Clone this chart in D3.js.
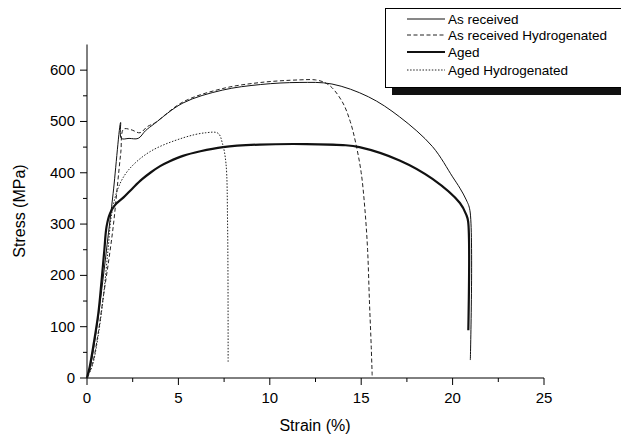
<!DOCTYPE html>
<html>
<head>
<meta charset="utf-8">
<script src="https://cdn.jsdelivr.net/npm/d3@7"></script>
<style>
  body { margin: 0; background: #fff; }
  svg { font-family: "Liberation Sans", Arial, sans-serif; }
</style>
</head>
<body>
<svg width="621" height="443"></svg>
<script>
// strain (%), stress (MPa)
const asReceived = [[0,0],[0.2,25],[0.5,90],[0.8,170],[1.1,260],[1.43,360],[1.84,498],[1.88,467],[2.3,467],[2.8,467],
  [3.2,482],[3.7,496],[5.25,536],[7.4,561],[9.5,572],[11.6,576],[13.4,573],[15.4,548],[17.1,509],[18.9,451],
  [20.0,392],[20.4,370],[20.75,347],[20.95,326],[20.97,35]]
const asReceivedH = [[0,0],[0.3,28],[0.6,85],[0.9,160],[1.2,232],[1.45,300],[1.65,370],[1.85,440],[2.0,485],[2.4,484],
  [2.9,478],[3.3,490],[3.7,497],[5.25,538],[7.4,564],[9.5,576],[11.6,581],[12.5,581],[13.0,576],[13.4,566],
  [14.0,536],[14.4,500],[14.7,458],[15.0,400],[15.2,330],[15.35,250],[15.45,150],[15.55,60],[15.6,5]]
const aged = [[0,0],[0.15,22],[0.34,61],[0.62,126],[0.8,191],[0.95,250],[1.07,295],[1.26,321],[1.53,337],[2.0,352],
  [2.5,370],[3.0,387],[3.5,401],[4.0,413],[4.5,422],[5.25,433],[6.2,442],[7.44,450],[9.45,455],[12,456],
  [14,454],[14.9,450],[17.1,424],[18.9,388],[20.4,341],[20.75,318],[20.85,305],[20.86,93]]
const agedH = [[0,0],[0.3,25],[0.6,80],[0.9,160],[1.15,250],[1.35,320],[1.7,370],[2.26,405],[3.44,441],[5.25,468],
  [6.5,478],[7.17,477],[7.41,457],[7.6,419],[7.69,302],[7.72,29]]

const xTicks = [0, 5, 10, 15, 20, 25]
const yTicks = [0, 100, 200, 300, 400, 500, 600]
const legendNames = ['As received', 'As received Hydrogenated', 'Aged', 'Aged Hydrogenated']

const svg = d3.select('svg')

const x = d3.scaleLinear().domain([0, 25]).range([87, 544])
const y = d3.scaleLinear().domain([0, 650]).range([378, 44.5])

// axes
const xAxis = svg.append('g').attr('transform', 'translate(0,378)')
xAxis.append('line').attr('x1', 87).attr('x2', 544).attr('stroke', '#000')
xAxis.selectAll('.minor').data(d3.range(2.5, 25, 5))
  .enter().append('line')
    .attr('x1', d => x(d)).attr('x2', d => x(d))
    .attr('y2', 4).attr('stroke', '#000')
xAxis.selectAll('.major').data(xTicks)
  .enter().append('line')
    .attr('x1', d => x(d)).attr('x2', d => x(d))
    .attr('y2', 7).attr('stroke', '#000')
xAxis.selectAll('text').data(xTicks)
  .enter().append('text')
    .attr('x', d => x(d)).attr('y', 25)
    .attr('text-anchor', 'middle').attr('font-size', 15)
    .text(d => d)

const yAxis = svg.append('g').attr('transform', 'translate(87,0)')
yAxis.append('line').attr('y1', 378).attr('y2', 44.5).attr('stroke', '#000')
yAxis.selectAll('.minor').data(d3.range(50, 650, 100))
  .enter().append('line')
    .attr('y1', d => y(d)).attr('y2', d => y(d))
    .attr('x2', -4).attr('stroke', '#000')
yAxis.selectAll('.major').data(yTicks)
  .enter().append('line')
    .attr('y1', d => y(d)).attr('y2', d => y(d))
    .attr('x2', -7).attr('stroke', '#000')
yAxis.selectAll('text').data(yTicks)
  .enter().append('text')
    .attr('x', -12).attr('y', d => y(d) + 5)
    .attr('text-anchor', 'end').attr('font-size', 15)
    .text(d => d)

svg.append('text').attr('x', 315).attr('y', 431)
  .attr('text-anchor', 'middle').attr('font-size', 16).text('Strain (%)')
svg.append('text').attr('transform', 'translate(25,211) rotate(-90)')
  .attr('text-anchor', 'middle').attr('font-size', 16).text('Stress (MPa)')

// curves
const line = d3.line()
  .x(d => x(d[0])).y(d => y(d[1]))
  .curve(d3.curveCatmullRom.alpha(0.5))

const styles = [
  { data: asReceived, width: 1, dash: null, color: '#111' },
  { data: asReceivedH, width: 1, dash: '4,2.5', color: '#222' },
  { data: aged, width: 2.2, dash: null, color: '#111' },
  { data: agedH, width: 1, dash: '1.5,1.6', color: '#222' }
]

svg.selectAll('path.curve').data(styles)
  .enter().append('path')
    .attr('class', 'curve')
    .attr('d', d => line(d.data))
    .attr('fill', 'none')
    .attr('stroke', d => d.color)
    .attr('stroke-width', d => d.width)
    .attr('stroke-dasharray', d => d.dash)

// legend
const legend = svg.append('g')
legend.append('rect').attr('x', 392).attr('y', 14).attr('width', 240).attr('height', 81).attr('fill', '#111')
legend.append('rect').attr('x', 385.5).attr('y', 8.5).attr('width', 240).attr('height', 79)
  .attr('fill', '#fff').attr('stroke', '#000')

const rowY = [19, 35, 52, 70]
legend.selectAll('line').data(styles)
  .enter().append('line')
    .attr('x1', 407).attr('x2', 445)
    .attr('y1', (d, i) => rowY[i]).attr('y2', (d, i) => rowY[i])
    .attr('stroke', d => d.color)
    .attr('stroke-width', d => d.width === 1 ? 1 : 1.8)
    .attr('stroke-dasharray', d => d.dash)
legend.selectAll('text').data(legendNames)
  .enter().append('text')
    .attr('x', 448).attr('y', (d, i) => rowY[i] + 5)
    .attr('font-size', 13.5)
    .text(d => d)
</script>
</body>
</html>
